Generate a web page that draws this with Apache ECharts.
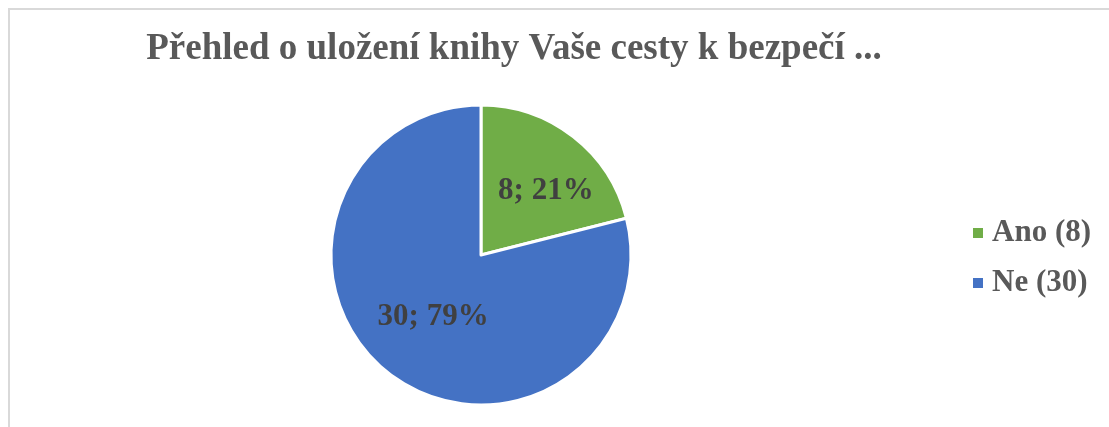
<!DOCTYPE html>
<html>
<head>
<meta charset="utf-8">
<script src="https://cdn.jsdelivr.net/npm/echarts@6/dist/echarts.min.js"></script>
<style>
  html, body { margin: 0; padding: 0; background: #fff; }
  #chart { width: 1109px; height: 427px; }
</style>
</head>
<body>
<div id="chart"></div>
<script>
// data
var categories = ['Ano', 'Ne'];
var counts = [8, 30];
var colors = ['#70AD47', '#4472C4'];
var titleText = 'Přehled o uložení knihy Vaše cesty k bezpečí ...';

var total = counts.reduce(function (a, b) { return a + b; }, 0);
var pieData = categories.map(function (name, i) {
    var item = { name: name, value: counts[i], itemStyle: { color: colors[i] } };
    if (i === 0) {
        item.label = { offset: [17, -2] }; // Excel posune popisek více ven
    }
    return item;
});

var chart = echarts.init(document.getElementById('chart'));
chart.setOption({
    animation: false,
    backgroundColor: '#fff',
    // rámeček grafu
    graphic: [{
        type: 'rect',
        shape: { x: 9, y: 9, width: 1200, height: 500 },
        style: { fill: 'none', stroke: '#d9d9d9', lineWidth: 2 },
        silent: true
    }],
    title: {
        text: titleText,
        left: 509,
        top: 26,
        textAlign: 'center',
        textStyle: {
            fontFamily: 'Liberation Serif',
            fontWeight: 'bold',
            fontSize: 37,
            color: '#595959'
        }
    },
    legend: {
        orient: 'vertical',
        left: 966,
        top: 211,
        itemWidth: 12,
        itemHeight: 12,
        itemGap: 16,
        icon: 'rect',
        data: categories,
        formatter: function (name) {
            return name + ' (' + counts[categories.indexOf(name)] + ')';
        },
        textStyle: {
            fontFamily: 'Liberation Serif',
            fontWeight: 'bold',
            fontSize: 31,
            lineHeight: 34,
            padding: [0, 0, 0, 3],
            color: '#595959'
        }
    },
    series: [{
        type: 'pie',
        center: [481, 255],
        radius: [0, 150],
        startAngle: 90,
        clockwise: true,
        itemStyle: { borderColor: '#fff', borderWidth: 3 },
        label: {
            position: 'inside',
            fontFamily: 'Liberation Serif',
            fontWeight: 'bold',
            fontSize: 31,
            color: '#404040',
            formatter: function (p) {
                return p.value + '; ' + Math.round(p.value / total * 100) + '%';
            }
        },
        labelLine: { show: false },
        emphasis: { disabled: true },
        data: pieData
    }]
});
</script>
</body>
</html>
